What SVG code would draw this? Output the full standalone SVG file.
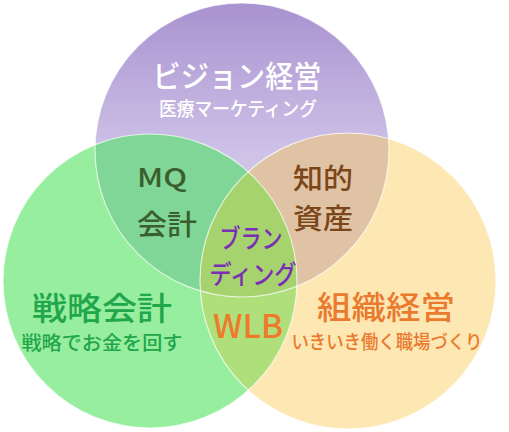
<svg xmlns="http://www.w3.org/2000/svg" width="509" height="432" viewBox="0 0 509 432">
<defs>
<linearGradient id="pg" gradientUnits="userSpaceOnUse" x1="0" y1="3" x2="0" y2="160">
<stop offset="0" stop-color="#a992d0"/>
<stop offset="1" stop-color="#cfc4e8"/>
</linearGradient>
<clipPath id="cG"><circle cx="150" cy="281" r="147"/></clipPath>
<clipPath id="cY"><circle cx="348" cy="281" r="148"/></clipPath>
<style>
.t{font-family:"Noto Sans CJK JP","Noto Sans",sans-serif;text-anchor:middle;font-weight:500}
.edge{fill:none;stroke:#ffffff;stroke-opacity:0.7;stroke-width:1.2}
</style>
</defs>
<rect width="509" height="432" fill="#ffffff"/>
<g id="circle-vision">
<circle cx="242" cy="150" r="147" fill="url(#pg)"/>
</g>
<g id="circle-strategy">
<circle cx="150" cy="281" r="147" fill="#97ee9f"/>
</g>
<g id="circle-org">
<circle cx="348" cy="281" r="148" fill="#fde8b4"/>
</g>
<g id="overlaps">
<g clip-path="url(#cG)"><circle cx="242" cy="150" r="147" fill="#80d697"/></g>
<g clip-path="url(#cY)"><circle cx="242" cy="150" r="147" fill="#dfc3a4"/></g>
<g clip-path="url(#cY)"><circle cx="150" cy="281" r="147" fill="#aedf7a"/></g>
<g clip-path="url(#cY)"><g clip-path="url(#cG)"><circle cx="242" cy="150" r="147" fill="#a6d36e"/></g></g>
</g>
<g id="connectors">
<circle class="edge" cx="242" cy="150" r="147"/>
<circle class="edge" cx="150" cy="281" r="147"/>
<circle class="edge" cx="348" cy="281" r="148"/>
</g>
<g id="label-vision">
<text class="t" x="237" y="87" font-size="30" fill="#ffffff" textLength="169" lengthAdjust="spacingAndGlyphs">ビジョン経営</text>
<text class="t" x="238" y="116" font-size="19" fill="#ffffff" textLength="158" lengthAdjust="spacingAndGlyphs">医療マーケティング</text>
</g>
<g id="label-mq">
<text class="t" x="162" y="187" font-size="26" fill="#3b5e2e" textLength="50" lengthAdjust="spacingAndGlyphs">MQ</text>
<text class="t" x="167" y="235" font-size="28" fill="#3b5e2e" textLength="60" lengthAdjust="spacingAndGlyphs">会計</text>
</g>
<g id="label-chiteki">
<text class="t" x="323" y="189" font-size="28" fill="#7b4619" textLength="60" lengthAdjust="spacingAndGlyphs">知的</text>
<text class="t" x="323" y="229" font-size="28" fill="#7b4619" textLength="60" lengthAdjust="spacingAndGlyphs">資産</text>
</g>
<g id="label-branding">
<text class="t" x="251" y="248" font-size="26" fill="#7a2fb5" textLength="63" lengthAdjust="spacingAndGlyphs">ブラン</text>
<text class="t" x="253" y="284" font-size="26" fill="#7a2fb5" textLength="87" lengthAdjust="spacingAndGlyphs">ディング</text>
</g>
<g id="label-wlb">
<text class="t" x="248" y="338" font-size="33" fill="#ef7a2c" textLength="70" lengthAdjust="spacingAndGlyphs">WLB</text>
</g>
<g id="label-strategy">
<text class="t" x="102" y="320" font-size="32" fill="#22a64c" textLength="140" lengthAdjust="spacingAndGlyphs">戦略会計</text>
<text class="t" x="102" y="350" font-size="19" fill="#22a64c" textLength="161" lengthAdjust="spacingAndGlyphs">戦略でお金を回す</text>
</g>
<g id="label-org">
<text class="t" x="386" y="319" font-size="32" fill="#ea7a2e" textLength="138" lengthAdjust="spacingAndGlyphs">組織経営</text>
<text class="t" x="387" y="349" font-size="19" fill="#ea7a2e" textLength="191" lengthAdjust="spacingAndGlyphs">いきいき働く職場づくり</text>
</g>
</svg>
